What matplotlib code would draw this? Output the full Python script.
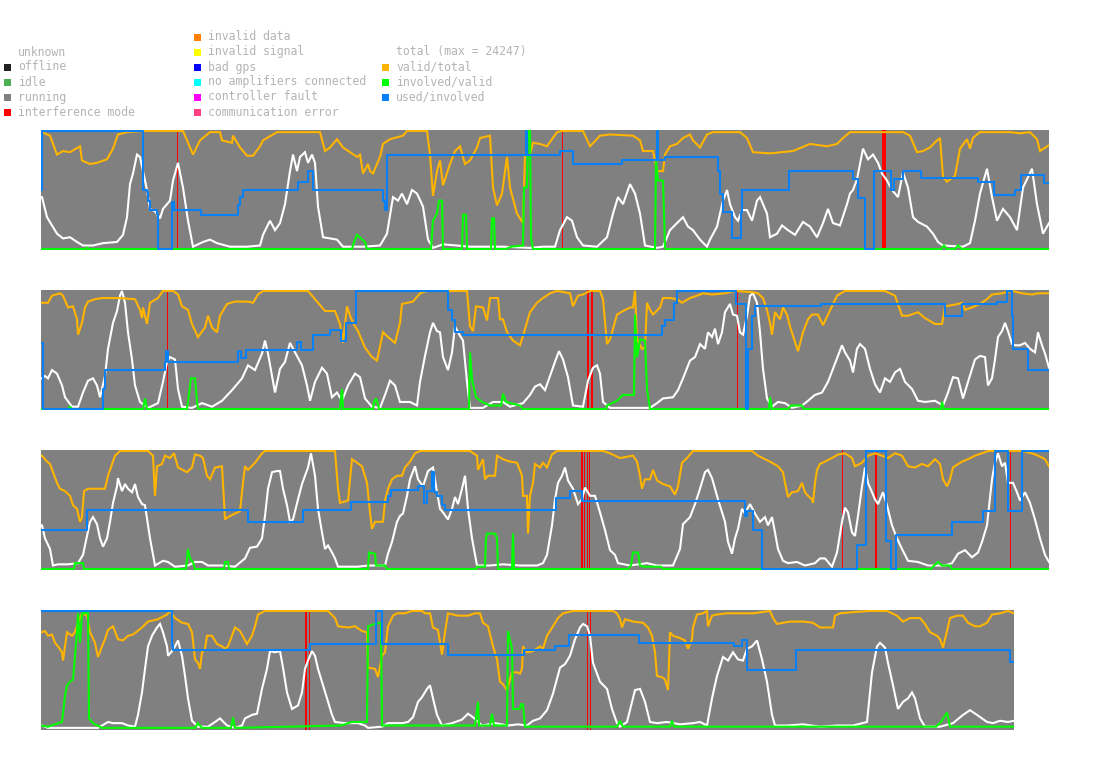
import numpy as np
import matplotlib
matplotlib.use('Agg')
import matplotlib.pyplot as plt
from matplotlib.patches import Rectangle

# ── DATA ── (x in samples along each strip, y as fraction of strip height)
S1_TOTAL = [(0,0.44),(1,0.44),(6,0.27),(16,0.13),(22,0.09),(29,0.10),(36,0.06),(42,0.03),(52,0.03),(62,0.05),(76,0.06),(82,0.12),(86,0.27),(89,0.55),(92,0.64),(96,0.80),(99,0.78),(102,0.66),(106,0.50),(109,0.34),(114,0.32),(119,0.26),(122,0.34),(129,0.41),(132,0.58),(137,0.73),(142,0.52),(147,0.24),(152,0.02),(162,0.06),(169,0.08),(176,0.05),(189,0.02),(206,0.02),(219,0.03),(222,0.12),(226,0.19),(229,0.24),(234,0.16),(239,0.22),(244,0.38),(249,0.66),(252,0.80),(256,0.66),(259,0.78),(264,0.82),(267,0.73),(271,0.80),(274,0.73),(277,0.36),(282,0.10),(289,0.09),(296,0.08),(302,0.02),(322,0.02),(339,0.03),(346,0.13),(352,0.44),(357,0.41),(361,0.47),(366,0.38),(371,0.50),(376,0.47),(382,0.36),(387,0.08),(392,0.01),(402,0.04),(416,0.03),(429,0.02),(462,0.02),(489,0.01),(502,0.02),(514,0.02),(519,0.16),(526,0.27),(531,0.24),(536,0.10),(542,0.03),(556,0.02),(566,0.10),(572,0.30),(577,0.44),(582,0.38),(589,0.55),(594,0.47),(599,0.30),(604,0.03),(616,0.01),(622,0.02),(629,0.16),(636,0.22),(642,0.27),(647,0.19),(652,0.16),(659,0.08),(666,0.02),(669,0.08),(676,0.19),(682,0.41),(686,0.50),(689,0.38),(694,0.27),(697,0.24),(701,0.33),(706,0.33),(711,0.24),(716,0.41),(719,0.44),(726,0.30),(729,0.10),(736,0.13),(741,0.20),(747,0.16),(754,0.12),(762,0.23),(769,0.19),(776,0.10),(782,0.22),(787,0.34),(792,0.22),(799,0.20),(806,0.38),(809,0.47),(812,0.50),(816,0.59),(822,0.85),(827,0.76),(832,0.80),(837,0.73),(841,0.64),(846,0.58),(851,0.50),(857,0.44),(862,0.65),(867,0.52),(872,0.27),(877,0.23),(886,0.19),(892,0.13),(897,0.06),(902,0.03),(922,0.02),(929,0.05),(934,0.24),(939,0.47),(946,0.68),(951,0.44),(956,0.24),(962,0.34),(969,0.27),(976,0.16),(982,0.52),(991,0.68),(996,0.38),(1002,0.13),(1008,0.22)]
S1_VALID = [(0,0.99),(1,0.99),(9,0.96),(16,0.80),(22,0.83),(29,0.82),(39,0.87),(41,0.75),(49,0.72),(56,0.73),(66,0.76),(72,0.85),(77,0.97),(86,0.99),(102,1.0),(142,1.0),(149,0.86),(152,0.80),(159,0.92),(169,0.99),(179,0.99),(181,0.92),(191,0.90),(192,0.96),(199,0.86),(206,0.79),(212,0.79),(219,0.87),(222,0.92),(236,0.99),(279,0.99),(284,0.83),(289,0.86),(296,0.93),(302,0.86),(309,0.82),(316,0.78),(319,0.80),(322,0.64),(327,0.72),(329,0.66),(332,0.64),(339,0.78),(342,0.89),(349,0.93),(362,0.96),(366,1.0),(386,1.0),(389,0.80),(392,0.45),(396,0.66),(399,0.75),(402,0.54),(409,0.72),(414,0.83),(419,0.87),(424,0.72),(429,0.75),(436,0.86),(439,0.94),(449,0.96),(452,0.52),(456,0.37),(461,0.47),(466,0.78),(469,0.52),(476,0.30),(482,0.22),(484,0.80),(489,0.80),(492,0.90),(499,0.89),(506,0.87),(516,0.99),(521,1.0),(542,1.0),(549,0.87),(559,0.96),(569,0.97),(592,0.96),(599,0.92),(602,0.83),(612,0.83),(616,0.66),(622,0.66),(624,0.80),(629,0.87),(636,0.89),(642,0.94),(649,0.97),(652,0.92),(659,0.86),(666,0.97),(672,0.99),(679,0.99),(699,0.99),(706,0.94),(712,0.82),(729,0.81),(752,0.83),(769,0.89),(786,0.87),(796,0.89),(802,0.94),(809,0.99),(862,0.99),(869,0.96),(876,0.82),(882,0.83),(889,0.86),(896,0.92),(899,0.94),(902,0.61),(906,0.57),(914,0.62),(919,0.85),(926,0.93),(929,0.85),(932,0.94),(936,0.97),(939,0.99),(969,0.99),(979,0.98),(989,0.99),(996,0.93),(999,0.83),(1008,0.88)]
S1_INVOLVED = [(0,0),(44,0),(46,0.01),(48,0),(311,0),(313,0.06),(316,0.12),(320,0.09),(324,0.06),(326,0),(390,0),(392,0.24),(396,0.30),(398,0.41),(401,0.41),(402,0),(421,0),(422,0.29),(425,0.29),(426,0),(450,0),(451,0.26),(453,0.26),(454,0),(465,0),(470,0.02),(482,0.03),(483,0.52),(486,0.52),(487,1.0),(489,1.0),(490,0.10),(492,0),(614,0),(615,0.75),(617,0.58),(622,0.58),(624,0.02),(625,0),(900,0),(903,0.03),(906,0),(914,0),(917,0.03),(921,0),(1008,0)]
S1_USED = [(0,0.50),(1,1.0),(102,0.50),(106,0.48),(107,0.41),(109,0.33),(116,0.30),(117,0.0),(131,0.40),(133,0.33),(160,0.29),(197,0.37),(199,0.44),(202,0.50),(257,0.57),(267,0.66),(272,0.50),(342,0.41),(344,0.33),(346,0.80),(485,1.0),(486,0.80),(519,0.83),(532,0.72),(581,0.75),(616,1.0),(617,0.75),(624,0.78),(677,0.66),(679,0.47),(682,0.31),(691,0.09),(700,0.31),(701,0.50),(748,0.66),(812,0.59),(817,0.43),(824,0.0),(833,0.66),(850,0.50),(853,0.59),(862,0.66),(880,0.60),(937,0.57),(953,0.46),(974,0.50),(980,0.63),(1003,0.56),(1008,0.56)]
S1_INTERF_START = [136, 521, 841, 843]
S1_INTERF_WIDTH = [1, 1, 1.5, 1.5]

S2_TOTAL = [(0,0.26),(1,0.26),(4,0.28),(7,0.26),(11,0.33),(16,0.30),(21,0.20),(24,0.10),(31,0.02),(37,0.02),(42,0.14),(47,0.24),(52,0.26),(56,0.20),(59,0.10),(64,0.28),(67,0.51),(72,0.73),(76,0.83),(79,0.96),(81,1.0),(84,0.90),(87,0.65),(91,0.42),(94,0.20),(99,0.06),(107,0.01),(117,0.05),(122,0.23),(126,0.40),(129,0.44),(134,0.42),(137,0.17),(141,0.02),(151,0.01),(161,0.05),(171,0.02),(181,0.07),(191,0.16),(201,0.26),(207,0.37),(214,0.33),(221,0.47),(224,0.58),(227,0.47),(234,0.14),(239,0.34),(244,0.40),(249,0.56),(254,0.48),(261,0.37),(266,0.20),(269,0.07),(274,0.23),(281,0.35),(286,0.30),(291,0.10),(296,0.14),(301,0.07),(307,0.20),(314,0.30),(319,0.27),(324,0.09),(331,0.02),(339,0.01),(344,0.12),(349,0.24),(354,0.20),(359,0.06),(369,0.06),(376,0.03),(379,0.23),(384,0.45),(389,0.65),(392,0.73),(396,0.66),(399,0.65),(402,0.44),(407,0.33),(411,0.48),(414,0.70),(419,0.62),(422,0.58),(426,0.23),(429,0.01),(442,0.01),(452,0.06),(462,0.06),(469,0.02),(482,0.05),(489,0.12),(494,0.19),(499,0.21),(504,0.16),(509,0.28),(514,0.40),(518,0.49),(522,0.42),(527,0.27),(532,0.03),(542,0.02),(547,0.24),(552,0.35),(556,0.37),(559,0.30),(562,0.06),(569,0.01),(609,0.01),(616,0.05),(622,0.09),(632,0.10),(637,0.16),(642,0.26),(649,0.41),(654,0.44),(659,0.55),(664,0.51),(667,0.65),(671,0.61),(674,0.68),(677,0.55),(681,0.65),(684,0.82),(689,0.89),(692,0.80),(696,0.79),(699,0.65),(702,0.63),(706,0.79),(709,0.96),(712,0.98),(716,0.90),(719,0.65),(722,0.34),(726,0.09),(731,0.02),(737,0.06),(744,0.05),(751,0.01),(761,0.03),(767,0.07),(774,0.12),(781,0.14),(787,0.23),(792,0.34),(797,0.45),(801,0.54),(804,0.48),(809,0.41),(812,0.31),(816,0.51),(819,0.55),(824,0.51),(829,0.34),(834,0.21),(839,0.14),(844,0.26),(849,0.23),(854,0.31),(859,0.34),(864,0.23),(871,0.17),(877,0.07),(884,0.06),(894,0.07),(902,0.03),(907,0.14),(912,0.27),(917,0.26),(922,0.09),(927,0.23),(934,0.42),(939,0.45),(944,0.44),(947,0.20),(951,0.26),(954,0.42),(957,0.61),(961,0.66),(964,0.73),(967,0.66),(971,0.55),(974,0.54),(979,0.54),(984,0.56),(989,0.51),(994,0.48),(997,0.65),(1001,0.54),(1004,0.47),(1008,0.35)]
S2_VALID = [(0,0.90),(1,0.90),(7,0.90),(11,0.96),(19,0.98),(22,0.96),(27,0.86),(32,0.87),(36,0.76),(37,0.63),(41,0.73),(44,0.86),(47,0.91),(54,0.93),(61,0.94),(77,0.94),(94,0.93),(99,0.84),(101,0.77),(102,0.86),(106,0.72),(109,0.90),(117,0.94),(122,1.0),(132,1.0),(137,0.97),(141,0.87),(147,0.84),(151,0.72),(157,0.61),(164,0.69),(167,0.79),(171,0.69),(176,0.65),(179,0.79),(186,0.89),(194,0.91),(207,0.91),(212,0.90),(217,0.97),(222,1.0),(267,1.0),(274,0.93),(284,0.83),(294,0.83),(299,0.72),(302,0.56),(306,0.87),(309,0.79),(312,0.73),(317,0.66),(324,0.52),(331,0.44),(336,0.41),(339,0.53),(342,0.65),(347,0.61),(354,0.56),(359,0.73),(361,0.89),(372,0.91),(379,0.98),(386,1.0),(426,1.0),(429,0.70),(432,0.66),(435,0.87),(442,0.86),(446,0.75),(449,0.94),(457,0.94),(459,0.76),(462,0.76),(466,0.65),(472,0.58),(479,0.54),(482,0.62),(489,0.82),(496,0.90),(502,0.94),(509,0.98),(516,1.0),(529,0.98),(532,0.87),(537,0.96),(542,0.97),(549,1.0),(559,1.0),(562,0.93),(566,0.55),(569,0.59),(576,0.80),(582,0.83),(589,0.86),(592,0.86),(594,1.0),(596,0.59),(601,0.51),(604,0.52),(606,0.90),(609,0.84),(612,0.80),(619,0.86),(622,0.94),(629,0.94),(636,0.93),(641,0.90),(649,0.94),(656,0.96),(662,0.98),(671,0.97),(684,0.98),(694,1.0),(711,0.99),(717,0.98),(722,0.94),(726,0.84),(729,0.73),(731,0.63),(734,0.82),(739,0.76),(742,0.86),(746,0.80),(749,0.70),(752,0.62),(757,0.49),(762,0.65),(767,0.76),(771,0.80),(777,0.80),(782,0.71),(787,0.80),(791,0.87),(796,0.96),(804,1.0),(844,1.0),(854,0.96),(861,0.79),(867,0.79),(877,0.82),(884,0.77),(894,0.72),(901,0.72),(904,0.87),(911,0.88),(917,0.89),(921,0.90),(924,0.84),(931,0.86),(939,0.89),(946,0.93),(951,0.97),(961,0.98),(971,1.0),(981,0.98),(991,0.97),(997,0.98),(1008,0.98)]
S2_INVOLVED = [(0,0),(27,0),(29,0.02),(31,0),(102,0),(104,0.09),(106,0),(146,0),(147,0.06),(150,0.26),(154,0.26),(156,0.06),(157,0),(299,0),(301,0.17),(302,0),(332,0),(333,0.06),(335,0.09),(337,0.04),(338,0),(428,0),(429,0.48),(431,0.25),(435,0.10),(441,0.06),(449,0.03),(460,0.03),(462,0.13),(465,0.06),(479,0.03),(482,0),(565,0),(566,0.03),(576,0.07),(582,0.12),(593,0.12),(594,0.80),(596,0.44),(599,0.59),(604,0.58),(606,0.17),(609,0),(728,0),(729,0.10),(731,0),(747,0),(750,0.03),(761,0.03),(763,0),(900,0),(901,0.06),(903,0),(1008,0)]
S2_USED = [(0,0.56),(2,0.0),(62,0.17),(64,0.33),(124,0.40),(125,0.49),(127,0.40),(197,0.49),(200,0.43),(205,0.50),(256,0.57),(260,0.50),(272,0.63),(289,0.67),(300,0.58),(305,0.73),(315,1.0),(407,0.84),(411,0.75),(414,0.65),(422,0.63),(621,0.70),(624,0.75),(633,0.90),(636,1.0),(695,0.89),(705,0.0),(707,0.51),(711,0.79),(714,0.87),(780,0.89),(904,0.79),(921,0.89),(956,0.91),(966,1.0),(971,0.79),(972,0.51),(987,0.33),(1008,0.33)]
S2_INTERF_START = [126, 546, 550, 696]
S2_INTERF_WIDTH = [1, 1.5, 1.5, 1]

S3_TOTAL = [(0,0.37),(1,0.37),(4,0.26),(9,0.17),(12,0.03),(17,0.04),(27,0.04),(37,0.05),(42,0.12),(46,0.28),(49,0.40),(52,0.44),(56,0.38),(59,0.26),(62,0.19),(66,0.26),(69,0.40),(72,0.56),(76,0.70),(77,0.77),(81,0.66),(84,0.72),(87,0.68),(91,0.65),(94,0.72),(97,0.61),(101,0.55),(104,0.54),(109,0.26),(114,0.03),(122,0.07),(127,0.06),(134,0.02),(147,0.03),(154,0.06),(161,0.06),(167,0.03),(181,0.03),(194,0.02),(204,0.09),(209,0.18),(216,0.19),(221,0.26),(224,0.45),(227,0.68),(231,0.82),(236,0.83),(239,0.83),(242,0.68),(246,0.54),(249,0.40),(252,0.42),(257,0.59),(261,0.72),(264,0.79),(267,0.86),(270,0.98),(274,0.79),(277,0.51),(281,0.31),(284,0.17),(287,0.20),(291,0.14),(294,0.09),(297,0.02),(317,0.02),(327,0.03),(339,0.03),(344,0.03),(347,0.13),(351,0.23),(356,0.40),(359,0.45),(362,0.47),(366,0.62),(369,0.76),(374,0.87),(377,0.76),(382,0.70),(387,0.83),(392,0.86),(396,0.65),(399,0.51),(402,0.48),(407,0.42),(411,0.51),(414,0.61),(417,0.55),(421,0.68),(424,0.79),(427,0.51),(431,0.26),(436,0.03),(449,0.03),(462,0.04),(479,0.03),(496,0.03),(502,0.05),(506,0.12),(511,0.37),(514,0.59),(517,0.73),(521,0.79),(524,0.86),(527,0.75),(532,0.68),(537,0.55),(541,0.59),(544,0.69),(549,0.62),(554,0.62),(559,0.48),(564,0.33),(569,0.16),(574,0.12),(577,0.05),(589,0.03),(606,0.05),(616,0.03),(632,0.03),(639,0.17),(642,0.38),(649,0.44),(654,0.55),(659,0.68),(664,0.82),(667,0.84),(671,0.77),(677,0.59),(684,0.40),(687,0.23),(691,0.13),(694,0.26),(697,0.34),(701,0.51),(704,0.47),(709,0.55),(714,0.47),(719,0.40),(724,0.44),(727,0.37),(731,0.44),(734,0.31),(737,0.17),(742,0.07),(747,0.05),(756,0.06),(764,0.03),(774,0.05),(779,0.09),(784,0.09),(791,0.02),(796,0.14),(801,0.40),(804,0.52),(807,0.48),(811,0.31),(814,0.28),(817,0.45),(821,0.70),(824,0.86),(827,0.73),(834,0.59),(837,0.55),(842,0.65),(846,0.54),(851,0.37),(856,0.26),(861,0.17),(867,0.07),(877,0.06),(887,0.03),(897,0.03),(904,0.03),(911,0.05),(917,0.13),(924,0.16),(931,0.10),(937,0.14),(941,0.23),(946,0.37),(951,0.76),(954,0.90),(957,0.98),(961,0.87),(964,0.90),(967,0.73),(972,0.73),(976,0.65),(979,0.58),(984,0.65),(989,0.56),(994,0.42),(999,0.26),(1004,0.12),(1008,0.06)]
S3_VALID = [(0,0.96),(1,0.96),(6,0.91),(9,0.89),(12,0.82),(16,0.73),(19,0.68),(24,0.66),(29,0.62),(32,0.54),(36,0.51),(39,0.40),(41,0.44),(43,0.66),(47,0.68),(64,0.68),(67,0.79),(74,0.96),(79,1.0),(107,1.0),(112,0.96),(114,0.62),(116,0.87),(121,0.89),(124,0.96),(129,0.94),(133,0.98),(137,0.86),(146,0.82),(151,0.86),(154,0.97),(159,0.96),(162,0.94),(166,0.79),(169,0.76),(174,0.86),(181,0.87),(184,0.42),(187,0.44),(194,0.47),(199,0.49),(202,0.73),(204,0.87),(207,0.84),(214,0.90),(221,0.98),(224,1.0),(294,1.0),(297,0.68),(299,0.56),(307,0.58),(311,0.93),(316,0.90),(321,0.87),(326,0.73),(329,0.48),(331,0.34),(334,0.40),(342,0.40),(344,0.58),(347,0.68),(351,0.76),(356,0.79),(361,0.79),(364,0.86),(369,0.91),(374,0.98),(379,1.0),(429,1.0),(436,0.96),(437,0.84),(442,0.93),(444,0.76),(447,0.79),(454,0.79),(456,0.96),(462,0.93),(469,0.91),(476,0.90),(481,0.79),(482,0.62),(486,0.62),(487,0.30),(489,0.62),(492,0.73),(494,0.89),(499,0.86),(502,0.90),(506,0.86),(511,0.97),(516,1.0),(562,1.0),(569,0.98),(579,0.94),(592,0.96),(596,0.91),(599,0.79),(601,0.68),(604,0.76),(609,0.76),(612,0.84),(616,0.75),(622,0.72),(629,0.70),(634,0.63),(637,0.70),(641,0.90),(646,0.94),(652,1.0),(681,1.0),(711,1.0),(717,0.96),(724,0.93),(731,0.90),(737,0.87),(742,0.82),(744,0.73),(747,0.61),(751,0.65),(757,0.66),(761,0.73),(764,0.65),(767,0.62),(771,0.59),(772,0.56),(774,0.73),(776,0.84),(779,0.89),(784,0.91),(791,0.94),(797,0.97),(804,0.98),(811,0.94),(814,0.87),(821,0.90),(827,0.96),(834,0.98),(841,0.96),(847,0.94),(854,0.98),(861,0.96),(867,0.87),(874,0.86),(881,0.89),(887,0.87),(894,0.93),(899,0.89),(902,0.76),(906,0.70),(909,0.76),(912,0.86),(921,0.91),(927,0.93),(934,0.96),(941,0.98),(947,1.0),(981,1.0),(991,0.98),(997,0.96),(1004,0.93),(1008,0.87)]
S3_INVOLVED = [(0,0),(33,0),(34,0.05),(42,0.05),(43,0),(145,0),(146,0.09),(147,0.17),(149,0.09),(152,0.06),(154,0),(183,0),(184,0.06),(187,0.06),(188,0),(327,0),(328,0.14),(334,0.13),(335,0.03),(344,0.03),(346,0),(435,0),(436,0.02),(444,0.02),(445,0.26),(446,0.30),(454,0.30),(456,0.26),(457,0),(471,0),(472,0.30),(473,0),(587,0),(590,0.03),(592,0.14),(597,0.14),(599,0.03),(603,0.02),(620,0.02),(622,0),(890,0),(893,0.03),(897,0.06),(901,0.03),(909,0.03),(911,0),(1008,0)]
S3_USED = [(0,0.33),(46,0.50),(207,0.40),(262,0.50),(310,0.57),(347,0.62),(350,0.67),(377,0.70),(383,0.56),(386,0.66),(391,0.82),(393,0.65),(396,0.62),(401,0.54),(404,0.50),(515,0.60),(529,0.66),(541,0.58),(704,0.45),(706,0.49),(712,0.33),(721,0.0),(816,0.20),(825,1.0),(845,0.24),(850,0.0),(855,0.29),(911,0.40),(942,0.49),(954,1.0),(967,0.49),(981,1.0),(1008,1.0)]
S3_INTERF_START = [540, 543, 546, 548, 801, 834, 969]
S3_INTERF_WIDTH = [1.5, 1, 1, 1, 1, 2, 1]

S4_TOTAL = [(0,0.03),(1,0.03),(7,0.01),(57,0.01),(61,0.03),(67,0.06),(72,0.05),(81,0.05),(87,0.03),(94,0.02),(97,0.12),(101,0.31),(104,0.51),(107,0.70),(111,0.79),(116,0.86),(119,0.89),(122,0.82),(126,0.70),(127,0.62),(131,0.66),(134,0.70),(137,0.75),(141,0.62),(144,0.45),(147,0.26),(151,0.07),(157,0.02),(167,0.02),(174,0.06),(179,0.09),(186,0.03),(194,0.01),(201,0.03),(204,0.09),(211,0.12),(216,0.13),(221,0.34),(226,0.51),(229,0.66),(234,0.65),(239,0.66),(242,0.52),(246,0.31),(251,0.17),(257,0.20),(261,0.31),(264,0.51),(267,0.58),(271,0.66),(274,0.62),(277,0.51),(281,0.40),(286,0.26),(291,0.12),(294,0.06),(304,0.05),(317,0.05),(324,0.03),(327,0.01),(341,0.02),(347,0.05),(361,0.05),(367,0.06),(372,0.10),(377,0.23),(381,0.27),(386,0.34),(389,0.37),(392,0.26),(396,0.12),(401,0.03),(411,0.05),(421,0.08),(427,0.13),(432,0.10),(441,0.03),(454,0.05),(467,0.03),(477,0.04),(486,0.03),(492,0.07),(499,0.09),(506,0.16),(512,0.30),(519,0.52),(524,0.55),(529,0.62),(534,0.76),(539,0.86),(542,0.89),(546,0.87),(549,0.79),(552,0.56),(559,0.40),(566,0.34),(571,0.17),(576,0.05),(579,0.02),(586,0.06),(591,0.23),(594,0.33),(599,0.34),(604,0.23),(609,0.06),(616,0.05),(626,0.06),(639,0.04),(652,0.05),(659,0.06),(666,0.03),(671,0.26),(676,0.45),(682,0.61),(687,0.58),(692,0.65),(697,0.59),(702,0.58),(706,0.68),(711,0.70),(716,0.75),(721,0.59),(726,0.40),(731,0.12),(734,0.03),(746,0.03),(762,0.04),(779,0.02),(796,0.03),(812,0.03),(826,0.06),(831,0.48),(836,0.70),(839,0.73),(844,0.69),(847,0.56),(852,0.37),(857,0.17),(862,0.23),(867,0.26),(871,0.31),(874,0.26),(879,0.09),(884,0.02),(899,0.02),(912,0.05),(922,0.12),(929,0.16),(936,0.12),(946,0.06),(952,0.05),(959,0.07),(967,0.06),(973,0.07)]
S4_VALID = [(0,0.82),(1,0.82),(4,0.83),(7,0.79),(11,0.80),(14,0.73),(17,0.70),(21,0.65),(22,0.58),(26,0.82),(31,0.79),(34,0.82),(37,0.90),(41,0.98),(46,0.96),(49,0.82),(54,0.73),(57,0.61),(61,0.70),(64,0.76),(67,0.84),(72,0.87),(77,0.76),(82,0.75),(87,0.79),(92,0.80),(101,0.86),(107,0.91),(117,0.93),(126,0.97),(129,1.0),(134,0.94),(141,0.90),(147,0.89),(151,0.82),(154,0.59),(157,0.56),(159,0.51),(161,0.65),(164,0.68),(166,0.79),(171,0.79),(176,0.72),(181,0.70),(184,0.68),(187,0.70),(194,0.86),(199,0.83),(206,0.72),(211,0.79),(214,0.87),(217,0.97),(224,1.0),(261,1.0),(287,1.0),(294,0.94),(297,0.87),(307,0.86),(314,0.87),(321,0.83),(326,0.82),(327,0.52),(334,0.51),(337,0.44),(341,0.62),(344,0.65),(347,0.87),(352,0.96),(356,0.98),(364,0.98),(371,1.0),(381,1.0),(384,0.98),(389,0.98),(392,0.86),(397,0.84),(401,0.63),(404,0.82),(407,0.98),(417,0.96),(427,0.96),(434,0.98),(439,0.98),(442,0.90),(447,0.87),(452,0.70),(456,0.59),(459,0.40),(462,0.38),(466,0.33),(469,0.42),(471,0.48),(476,0.48),(479,0.47),(481,0.51),(482,0.70),(486,0.65),(492,0.66),(499,0.70),(502,0.68),(506,0.79),(512,0.87),(517,0.94),(522,0.98),(532,1.0),(552,1.0),(572,1.0),(576,0.98),(579,0.93),(581,0.86),(584,0.93),(592,0.91),(602,0.90),(607,0.86),(611,0.79),(614,0.65),(616,0.45),(621,0.44),(624,0.42),(627,0.33),(629,0.82),(632,0.79),(639,0.77),(644,0.75),(647,0.68),(651,0.76),(652,0.86),(656,0.97),(662,0.98),(666,1.0),(667,0.87),(671,0.96),(676,0.97),(686,0.98),(712,0.98),(729,1.0),(732,0.94),(736,0.89),(742,0.90),(749,0.91),(762,0.91),(772,0.90),(779,0.86),(792,0.86),(794,0.96),(799,0.98),(812,0.99),(829,1.0),(846,1.0),(856,0.96),(862,0.91),(869,0.94),(879,0.94),(884,0.89),(889,0.82),(896,0.79),(899,0.76),(902,0.69),(906,0.83),(909,0.94),(916,0.96),(922,0.96),(927,0.90),(934,0.87),(939,0.87),(946,0.90),(951,0.97),(959,0.98),(967,1.0),(973,0.98)]
S4_INVOLVED = [(0,0.03),(7,0.02),(21,0.06),(24,0.28),(26,0.37),(29,0.40),(32,0.42),(34,0.62),(36,0.82),(37,0.98),(39,0.73),(41,0.98),(44,0.98),(47,1.0),(48,0.09),(52,0.05),(61,0.01),(154,0.01),(157,0.05),(161,0.01),(190,0.01),(192,0.10),(194,0.01),(300,0.03),(311,0.06),(326,0.06),(327,0.87),(334,0.89),(340,0.90),(341,0.03),(434,0.03),(437,0.23),(438,0.03),(449,0.03),(451,0.13),(453,0.03),(466,0.03),(467,0.83),(471,0.68),(472,0.17),(479,0.17),(480,0.21),(482,0.21),(484,0.02),(576,0.02),(579,0.07),(582,0.02),(629,0.02),(631,0.07),(633,0.02),(895,0.02),(900,0.06),(906,0.14),(909,0.02),(973,0.02)]
S4_USED = [(0,1.0),(131,0.70),(132,0.67),(269,0.72),(335,1.0),(341,0.72),(407,0.63),(483,0.67),(514,0.70),(528,0.80),(598,0.73),(693,0.70),(701,0.75),(706,0.50),(755,0.67),(969,0.57),(973,0.57)]
S4_INTERF_START = [264, 268, 546, 549]
S4_INTERF_WIDTH = [2, 1, 1, 1]

STRIP_LENGTH = [1008, 1008, 1008, 973]

LEGEND_STATE = ['unknown', 'offline', 'idle', 'running', 'interference mode']
LEGEND_ERROR = ['invalid data', 'invalid signal', 'bad gps', 'no amplifiers connected',
                'controller fault', 'communication error']
LEGEND_LINES = ['total (max = 24247)', 'valid/total', 'involved/valid', 'used/involved']

# ── STYLE ──
W, H = 1095, 764
RUNNING = '#808080'
C_TOTAL = '#ffffff'
C_VALID = '#ffb400'
C_INVOLVED = '#00ff00'
C_USED = '#0a80f5'
C_INTERF = '#ff0000'
TXT = '#b4b4b4'
STATE_COLORS = [None, '#222222', '#4caf50', RUNNING, C_INTERF]
ERROR_COLORS = ['#ff8000', '#ffff00', '#0000ff', '#00ffff', '#ff00ff', '#ff4080']
LINE_COLORS = [None, C_VALID, C_INVOLVED, C_USED]

fig = plt.figure(figsize=(W / 100, H / 100), dpi=100)
fig.patch.set_facecolor('white')


def px_box(x, y, w, h):
    return [x / W, 1 - (y + h) / H, w / W, h / H]


# ── LEGEND ──
def legend_column(labels, colors, sq_x, txt_x, y0):
    for i, (lab, col) in enumerate(zip(labels, colors)):
        y = y0 + i * 15
        if col is not None:
            fig.add_artist(Rectangle((sq_x / W, 1 - (y + 3.5) / H), 7 / W, 7 / H,
                                     transform=fig.transFigure, facecolor=col,
                                     edgecolor='none'))
        fig.text(txt_x / W, 1 - y / H, lab, ha='left', va='center',
                 fontsize=8.3, color=TXT, family='DejaVu Sans Mono')


legend_column(LEGEND_STATE, STATE_COLORS, 4, 18, 52)
legend_column(LEGEND_ERROR, ERROR_COLORS, 194, 208, 37)
legend_column(LEGEND_LINES, LINE_COLORS, 382, 396, 52)

# ── STRIPS ──
strips = [
    (S1_TOTAL, S1_VALID, S1_INVOLVED, S1_USED, S1_INTERF_START, S1_INTERF_WIDTH),
    (S2_TOTAL, S2_VALID, S2_INVOLVED, S2_USED, S2_INTERF_START, S2_INTERF_WIDTH),
    (S3_TOTAL, S3_VALID, S3_INVOLVED, S3_USED, S3_INTERF_START, S3_INTERF_WIDTH),
    (S4_TOTAL, S4_VALID, S4_INVOLVED, S4_USED, S4_INTERF_START, S4_INTERF_WIDTH),
]

for k, (total, valid, involved, used, i_start, i_width) in enumerate(strips):
    length = STRIP_LENGTH[k]
    ax = fig.add_axes(px_box(41, 130 + 160 * k, length, 120))
    ax.set_facecolor(RUNNING)
    ax.set_xlim(0, length)
    ax.set_ylim(-0.008, 1.008)
    ax.set_xticks([])
    ax.set_yticks([])
    for s in ax.spines.values():
        s.set_visible(False)

    for xs, w in zip(i_start, i_width):
        ax.axvspan(xs, xs + w, color=C_INTERF, lw=0, zorder=1)

    for series, col in [(total, C_TOTAL), (valid, C_VALID), (involved, C_INVOLVED)]:
        arr = np.array(series)
        ax.plot(arr[:, 0], arr[:, 1], color=col, lw=1.5, zorder=3,
                solid_joinstyle='miter')

    arr = np.array(used)
    ax.step(arr[:, 0], arr[:, 1], where='post', color=C_USED, lw=1.5, zorder=4)

fig.savefig('out.png', dpi=100, facecolor='white')
